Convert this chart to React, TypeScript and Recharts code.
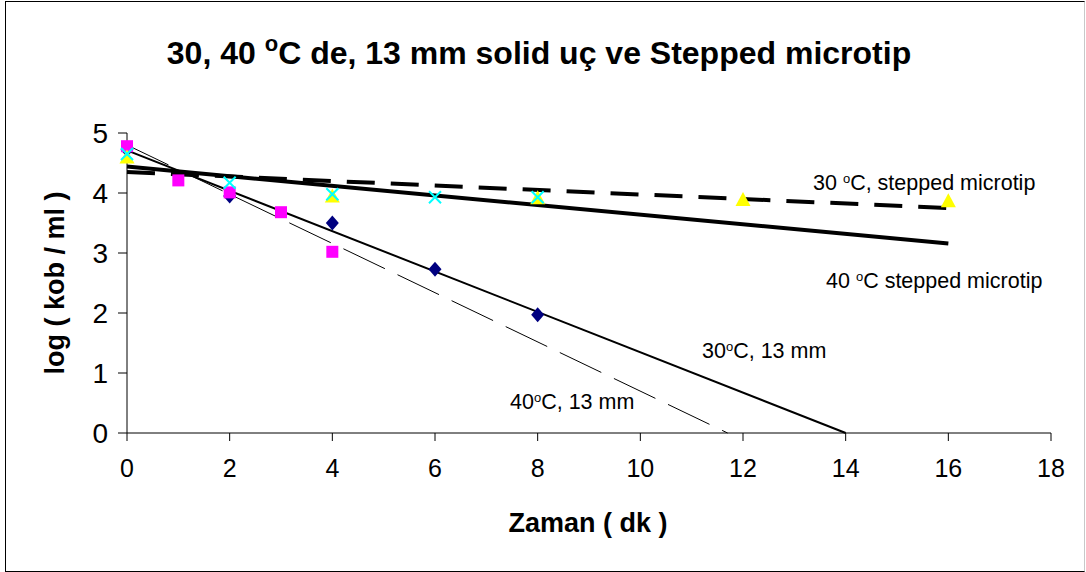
import React from "react";
import { ComposedChart, XAxis, YAxis, Scatter, Line } from "recharts";

// 30°C, 13 mm (navy diamonds)
const t30mmX = [0, 2, 4, 6, 8];
const t30mmY = [4.72, 3.95, 3.5, 2.73, 1.97];
// 40°C, 13 mm (pink squares)
const t40mmX = [0, 1, 2, 3, 4];
const t40mmY = [4.78, 4.21, 4.01, 3.68, 3.02];
// 30°C, stepped microtip (yellow triangles)
const t30stX = [0, 4, 8, 12, 16];
const t30stY = [4.6, 3.95, 3.92, 3.89, 3.87];
// 40°C, stepped microtip (cyan crosses)
const t40stX = [0, 2, 4, 6, 8];
const t40stY = [4.65, 4.17, 3.98, 3.93, 3.93];

// trend lines: start and end points
const trend30mmX = [0, 14.0];
const trend30mmY = [4.71, 0];
const trend40mmX = [0, 11.7];
const trend40mmY = [4.8, 0];
const trend30stX = [0, 16];
const trend30stY = [4.35, 3.75];
const trend40stX = [0, 16];
const trend40stY = [4.44, 3.16];

const xTicks = [0, 2, 4, 6, 8, 10, 12, 14, 16, 18];
const yTicks = [0, 1, 2, 3, 4, 5];

const pts = (xs: number[], ys: number[]) => xs.map((x, i) => ({ x, y: ys[i] }));

const FONT = "'Liberation Sans', Arial, sans-serif";

const Square = (p: any) => <rect x={p.cx - 6} y={p.cy - 6} width={12} height={12} fill="#FF00FF" />;
const Diamond = (p: any) => (
  <path d={`M${p.cx},${p.cy - 7.5}L${p.cx + 6.5},${p.cy}L${p.cx},${p.cy + 7.5}L${p.cx - 6.5},${p.cy}Z`} fill="#000080" />
);
const Triangle = (p: any) => (
  <path d={`M${p.cx},${p.cy - 7.5}L${p.cx + 7.5},${p.cy + 6.5}L${p.cx - 7.5},${p.cy + 6.5}Z`} fill="#FFFF00" />
);
const Cross = (p: any) => (
  <path
    d={`M${p.cx - 6},${p.cy - 6}L${p.cx + 6},${p.cy + 6}M${p.cx + 6},${p.cy - 6}L${p.cx - 6},${p.cy + 6}`}
    stroke="#00FFFF"
    strokeWidth={2}
  />
);

// text with a raised small "o" (degree sign) in the middle
const SupText = ({ pre, post, size, up }: { pre: string; post: string; size: number; up: number }) => (
  <>
    <tspan>{pre}</tspan>
    <tspan fontSize={size} dy={-up}>o</tspan>
    <tspan dy={up}>{post}</tspan>
  </>
);

export default function App() {
  return (
    <div style={{ position: "absolute", left: 0, top: 0, width: 1086, height: 572, background: "#fff" }}>
      <div
        style={{
          position: "absolute",
          left: 5,
          top: 1,
          width: 1080,
          height: 571,
          boxSizing: "border-box",
          border: "1px solid #000",
          borderRightColor: "#c8c8c8",
        }}
      />
      <div style={{ position: "absolute", left: 0, top: 0 }}>
        <ComposedChart width={1086} height={572} margin={{ top: 133, right: 35, left: 0, bottom: 0 }}>
          <XAxis
            type="number"
            dataKey="x"
            domain={[0, 18]}
            ticks={xTicks}
            interval={0}
            tickSize={8}
            tickMargin={18}
            height={139}
            stroke="#000"
            tick={{ fill: "#000", fontSize: 25, fontFamily: FONT }}
          />
          <YAxis
            type="number"
            dataKey="y"
            domain={[0, 5]}
            ticks={yTicks}
            interval={0}
            tickSize={9}
            tickMargin={10}
            width={127}
            stroke="#000"
            tick={{ fill: "#000", fontSize: 28, fontFamily: FONT }}
          />
          <Scatter data={pts(t30mmX, t30mmY)} shape={Diamond} isAnimationActive={false} />
          <Scatter data={pts(t40mmX, t40mmY)} shape={Square} isAnimationActive={false} />
          <Scatter data={pts(t30stX, t30stY)} shape={Triangle} isAnimationActive={false} />
          <Scatter data={pts(t40stX, t40stY)} shape={Cross} isAnimationActive={false} />
          <Line data={pts(trend30mmX, trend30mmY)} dataKey="y" type="linear" stroke="#000" strokeWidth={2} dot={false} isAnimationActive={false} />
          <Line data={pts(trend40mmX, trend40mmY)} dataKey="y" type="linear" stroke="#000" strokeWidth={1} strokeDasharray="46 14" dot={false} isAnimationActive={false} />
          <Line data={pts(trend40stX, trend40stY)} dataKey="y" type="linear" stroke="#000" strokeWidth={4} dot={false} isAnimationActive={false} />
          <Line data={pts(trend30stX, trend30stY)} dataKey="y" type="linear" stroke="#000" strokeWidth={4} strokeDasharray="28 16" dot={false} isAnimationActive={false} />
        </ComposedChart>
      </div>
      <svg width={1086} height={572} style={{ position: "absolute", left: 0, top: 0, pointerEvents: "none" }} fontFamily={FONT}>
        <text x={539} y={64} textAnchor="middle" fontSize={32} fontWeight="bold" fill="#000">
          <SupText pre="30, 40 " post="C de, 13 mm solid uç ve Stepped microtip" size={22} up={13} />
        </text>
        <text
          x={55}
          y={283}
          textAnchor="middle"
          dominantBaseline="central"
          fontSize={27}
          fontWeight="bold"
          transform="rotate(-90, 55, 283)"
        >
          log ( kob / ml )
        </text>
        <text x={588} y={532} textAnchor="middle" fontSize={27} fontWeight="bold">
          Zaman ( dk )
        </text>
        <text x={813} y={190} fontSize={21.5}>
          <SupText pre="30 " post="C, stepped microtip" size={13} up={7} />
        </text>
        <text x={826} y={288} fontSize={21.5}>
          <SupText pre="40 " post="C stepped microtip" size={13} up={7} />
        </text>
        <text x={702} y={358} fontSize={21.5}>
          <SupText pre="30" post="C, 13 mm" size={13} up={7} />
        </text>
        <text x={510} y={409} fontSize={21.5}>
          <SupText pre="40" post="C, 13 mm" size={13} up={7} />
        </text>
      </svg>
    </div>
  );
}
